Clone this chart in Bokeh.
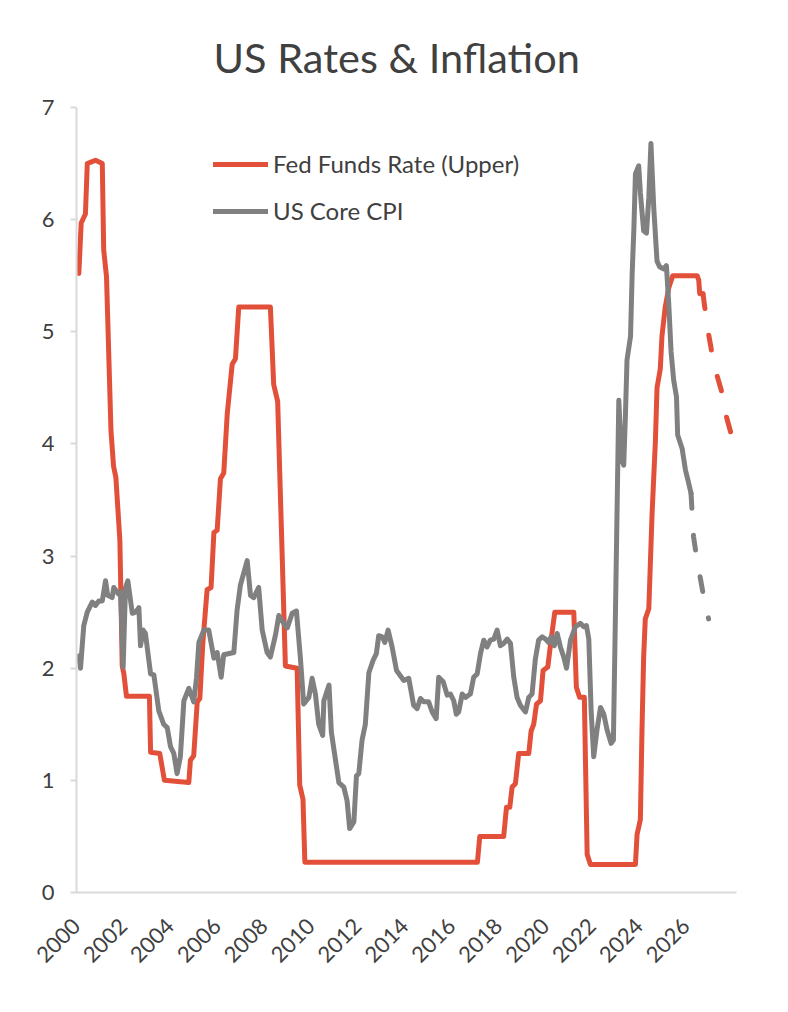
import math
from bokeh.plotting import figure
from bokeh.models import FixedTicker, Legend, LegendItem, Range1d
from bokeh.embed import file_html
from bokeh.resources import INLINE

# ---------------- data ----------------
year_ticks = [2000, 2002, 2004, 2006, 2008, 2010, 2012, 2014, 2016, 2018, 2020, 2022, 2024, 2026]
value_ticks = [0, 1, 2, 3, 4, 5, 6, 7]

fed_year = [2000.10, 2000.20, 2000.29, 2000.38, 2000.46, 2000.81, 2001.10, 2001.16, 2001.28, 2001.42,
            2001.47, 2001.58, 2001.68, 2001.85, 2001.95, 2002.02, 2002.13, 2003.11, 2003.16, 2003.55,
            2003.75, 2004.79, 2004.86, 2005.00, 2005.15, 2005.26, 2005.39, 2005.57, 2005.74, 2005.86,
            2006.00, 2006.14, 2006.28, 2006.43, 2006.64, 2006.78, 2006.92, 2008.27, 2008.41, 2008.58,
            2008.91, 2009.41, 2009.52, 2009.66, 2009.74, 2017.10, 2017.20, 2018.22, 2018.34, 2018.48,
            2018.58, 2018.72, 2018.86, 2019.29, 2019.39, 2019.50, 2019.62, 2019.79, 2019.90, 2020.10,
            2020.24, 2020.40, 2021.21, 2021.32, 2021.46, 2021.66, 2021.78, 2021.92, 2023.84, 2023.91,
            2024.05, 2024.12, 2024.19, 2024.26, 2024.41, 2024.48, 2024.55, 2024.69, 2024.76, 2024.90,
            2024.97, 2025.11, 2025.26, 2025.43, 2026.47, 2026.54, 2026.58, 2026.72]
fed_rate = [5.52, 5.97, 6.01, 6.05, 6.50, 6.53, 6.50, 5.73, 5.49, 4.48,
            4.12, 3.80, 3.70, 3.14, 2.02, 1.95, 1.75, 1.75, 1.25, 1.24,
            1.00, 0.98, 1.18, 1.22, 1.70, 1.73, 2.23, 2.70, 2.72, 3.21,
            3.23, 3.69, 3.74, 4.27, 4.71, 4.76, 5.22, 5.22, 4.53, 4.38,
            2.02, 2.00, 0.96, 0.83, 0.27, 0.27, 0.50, 0.50, 0.76, 0.76,
            0.94, 0.97, 1.24, 1.24, 1.44, 1.50, 1.68, 1.71, 1.98, 2.01,
            2.25, 2.50, 2.50, 1.83, 1.74, 1.74, 0.34, 0.25, 0.25, 0.52,
            0.65, 1.46, 2.10, 2.44, 2.53, 2.96, 3.38, 4.02, 4.50, 4.67,
            4.96, 5.22, 5.39, 5.50, 5.50, 5.46, 5.34, 5.34]

fed_proj_year = [2026.72, 2026.82, 2026.96, 2027.11, 2027.32, 2027.54, 2027.71, 2027.92]
fed_proj_rate = [5.34, 5.18, 4.98, 4.80, 4.61, 4.45, 4.25, 4.09]

cpi_year = [2000.10, 2000.17, 2000.31, 2000.46, 2000.67, 2000.81, 2000.95, 2001.10, 2001.24, 2001.33,
            2001.52, 2001.59, 2001.80, 2001.88, 2001.99, 2002.09, 2002.19, 2002.38, 2002.52, 2002.66,
            2002.73, 2002.84, 2002.94, 2003.16, 2003.30, 2003.51, 2003.72, 2003.87, 2004.01, 2004.15,
            2004.29, 2004.43, 2004.58, 2004.79, 2005.00, 2005.12, 2005.22, 2005.43, 2005.64, 2005.86,
            2006.00, 2006.17, 2006.28, 2006.71, 2006.85, 2006.99, 2007.28, 2007.42, 2007.56, 2007.77,
            2007.92, 2008.13, 2008.27, 2008.49, 2008.63, 2008.84, 2008.99, 2009.20, 2009.38, 2009.55,
            2009.69, 2009.91, 2010.05, 2010.19, 2010.33, 2010.50, 2010.55, 2010.77, 2010.87, 2011.19,
            2011.40, 2011.54, 2011.65, 2011.83, 2011.94, 2012.04, 2012.18, 2012.32, 2012.47, 2012.65,
            2012.79, 2012.89, 2013.04, 2013.15, 2013.29, 2013.46, 2013.65, 2013.79, 2013.96, 2014.17,
            2014.38, 2014.53, 2014.67, 2014.81, 2015.02, 2015.17, 2015.34, 2015.45, 2015.64, 2015.81,
            2015.95, 2016.09, 2016.20, 2016.30, 2016.45, 2016.59, 2016.80, 2016.94, 2017.09, 2017.23,
            2017.37, 2017.51, 2017.65, 2017.80, 2017.94, 2018.08, 2018.22, 2018.37, 2018.51, 2018.65,
            2018.79, 2018.93, 2019.15, 2019.29, 2019.43, 2019.57, 2019.71, 2019.86, 2020.00, 2020.14,
            2020.24, 2020.38, 2020.50, 2020.64, 2020.78, 2020.90, 2021.07, 2021.28, 2021.49, 2021.63,
            2021.75, 2021.85, 2021.95, 2022.06, 2022.20, 2022.35, 2022.49, 2022.63, 2022.80, 2022.90,
            2022.99, 2023.13, 2023.20, 2023.27, 2023.34, 2023.41, 2023.48, 2023.63, 2023.70, 2023.77,
            2023.84, 2023.98, 2024.05, 2024.19, 2024.31, 2024.41, 2024.50, 2024.62, 2024.76, 2024.87,
            2025.05, 2025.16, 2025.26, 2025.36, 2025.47, 2025.59, 2025.64, 2025.83, 2025.97, 2026.11,
            2026.21]
cpi_value = [2.11, 2.00, 2.38, 2.50, 2.59, 2.56, 2.60, 2.60, 2.78, 2.65,
             2.63, 2.72, 2.66, 2.68, 2.01, 2.72, 2.78, 2.49, 2.50, 2.54,
             2.20, 2.34, 2.31, 1.95, 1.94, 1.62, 1.50, 1.47, 1.30, 1.24,
             1.06, 1.21, 1.71, 1.82, 1.70, 1.92, 2.23, 2.34, 2.34, 2.09,
             2.14, 1.92, 2.12, 2.14, 2.52, 2.74, 2.96, 2.65, 2.63, 2.72,
             2.34, 2.14, 2.10, 2.30, 2.47, 2.40, 2.36, 2.49, 2.51, 2.09,
             1.68, 1.74, 1.91, 1.77, 1.50, 1.40, 1.71, 1.85, 1.43, 0.98,
             0.94, 0.82, 0.57, 0.63, 1.04, 1.06, 1.36, 1.50, 1.96, 2.07,
             2.13, 2.29, 2.28, 2.23, 2.34, 2.19, 1.98, 1.94, 1.89, 1.91,
             1.67, 1.64, 1.73, 1.70, 1.70, 1.61, 1.55, 1.92, 1.88, 1.76,
             1.77, 1.71, 1.59, 1.61, 1.77, 1.74, 1.77, 1.92, 1.95, 2.13,
             2.25, 2.19, 2.25, 2.26, 2.34, 2.20, 2.22, 2.26, 2.22, 1.92,
             1.74, 1.67, 1.61, 1.74, 1.77, 2.08, 2.25, 2.28, 2.26, 2.23,
             2.28, 2.20, 2.31, 2.19, 2.10, 2.00, 2.25, 2.37, 2.40, 2.37,
             2.38, 2.26, 1.62, 1.21, 1.45, 1.65, 1.59, 1.45, 1.33, 1.36,
             2.53, 4.39, 4.07, 3.85, 3.81, 4.24, 4.75, 4.96, 5.52, 5.90,
             6.41, 6.48, 6.24, 5.90, 5.88, 6.20, 6.68, 6.11, 5.63, 5.58,
             5.56, 5.59, 5.25, 4.82, 4.57, 4.42, 4.08, 3.96, 3.77, 3.65,
             3.56]

cpi_proj_year = [2026.21, 2026.32, 2026.47, 2026.61, 2026.78, 2026.96]
cpi_proj_value = [3.56, 3.17, 2.96, 2.80, 2.60, 2.44]

# ---------------- styling ----------------
RED = "#E2503A"
GREY = "#808080"
TEXT = "#404040"
AXIS = "#D9D9D9"
FONT = "Lato"

p = figure(width=788, height=1012,
           x_range=Range1d(2000, 2028.15), y_range=Range1d(0, 7),
           output_backend="svg", toolbar_location=None,
           min_border_left=76, min_border_right=52,
           min_border_top=107, min_border_bottom=120,
           title="US Rates & Inflation")

p.title.text_font = FONT
p.title.text_font_size = "41.5px"
p.title.text_font_style = "normal"
p.title.text_color = TEXT
p.title.align = "left"
p.title.offset = 137
p.title.standoff = 52

p.outline_line_color = None
p.xgrid.visible = False
p.ygrid.visible = False
p.background_fill_color = "white"
p.border_fill_color = "white"

# y axis
p.yaxis.ticker = FixedTicker(ticks=value_ticks)
p.yaxis.axis_line_color = AXIS
p.yaxis.axis_line_width = 2
p.yaxis.major_tick_line_color = AXIS
p.yaxis.major_tick_line_width = 2
p.yaxis.major_tick_out = 6
p.yaxis.major_tick_in = 0
p.yaxis.minor_tick_line_color = None
p.yaxis.major_label_standoff = 16
p.yaxis.major_label_text_font = FONT
p.yaxis.major_label_text_font_size = "22px"
p.yaxis.major_label_text_color = TEXT

# x axis
p.xaxis.ticker = FixedTicker(ticks=year_ticks)
p.xaxis.axis_line_color = AXIS
p.xaxis.axis_line_width = 2
p.xaxis.major_tick_line_color = None
p.xaxis.major_tick_out = 0
p.xaxis.major_tick_in = 0
p.xaxis.minor_tick_line_color = None
p.xaxis.major_label_orientation = math.pi / 4
p.xaxis.major_label_standoff = 30
p.xaxis.major_label_text_font = FONT
p.xaxis.major_label_text_font_size = "22px"
p.xaxis.major_label_text_color = TEXT

# lines
r_fed = p.line(fed_year, fed_rate, line_color=RED, line_width=5,
               line_join="round", line_cap="round")
p.line(fed_proj_year, fed_proj_rate, line_color=RED, line_width=5,
       line_dash="15 27", line_join="round", line_cap="round")
r_cpi = p.line(cpi_year, cpi_value, line_color=GREY, line_width=5,
               line_join="round", line_cap="round")
p.line(cpi_proj_year, cpi_proj_value, line_color=GREY, line_width=5,
       line_dash="15 27", line_join="round", line_cap="round")

legend = Legend(items=[LegendItem(label="Fed Funds Rate (Upper)", renderers=[r_fed]),
                       LegendItem(label="US Core CPI", renderers=[r_cpi])],
                location=(137, 667), orientation="vertical",
                glyph_width=55, glyph_height=24, label_height=24,
                label_standoff=5, spacing=18, padding=0, margin=0,
                border_line_color=None, background_fill_alpha=0,
                label_text_font=FONT, label_text_font_size="24px",
                label_text_color=TEXT)
p.add_layout(legend)

open("out.html", "w").write(file_html(p, INLINE))
